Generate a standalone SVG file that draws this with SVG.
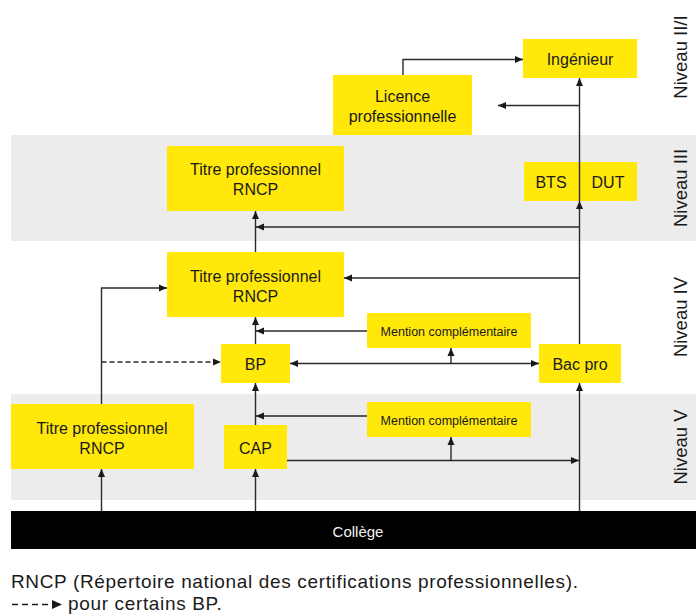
<svg xmlns="http://www.w3.org/2000/svg" width="696" height="616" viewBox="0 0 696 616">
<style>
.band{fill:#ececec}
.box{fill:#ffe80a}
.t{font-family:"Liberation Sans",Arial,sans-serif;font-size:16px;fill:#1a1a1a;text-anchor:middle}
.s{font-family:"Liberation Sans",Arial,sans-serif;font-size:12.5px;fill:#1a1a1a;text-anchor:middle}
.lvl{font-family:"Liberation Sans",Arial,sans-serif;font-size:18.5px;fill:#1a1a1a;text-anchor:middle}
.leg{font-family:"Liberation Sans",Arial,sans-serif;font-size:19px;letter-spacing:0.65px;fill:#1a1a1a}
.c{fill:none;stroke:#2a2a2a;stroke-width:1.4}
.a{marker-end:url(#ah)}
.d{stroke-dasharray:5,3}
</style>
<defs>
<marker id="ah" markerWidth="8" markerHeight="8" refX="8" refY="4" orient="auto-start-reverse" markerUnits="userSpaceOnUse">
<path d="M0,0.5 L8,4 L0,7.5 z" fill="#1a1a1a"/>
</marker>
<marker id="ahl" markerWidth="10" markerHeight="10" refX="10" refY="5" orient="auto" markerUnits="userSpaceOnUse">
<path d="M0,0.5 L10,5 L0,9.5 z" fill="#1a1a1a"/>
</marker>
</defs>
<g id="bands">
<rect class="band" x="11" y="135" width="685" height="106"/>
<rect class="band" x="11" y="394" width="685" height="106"/>
<rect x="11" y="511" width="685" height="38" fill="#000"/>
<text x="358" y="537" style="font-family:'Liberation Sans',Arial,sans-serif;font-size:15px;fill:#f2f2f2;text-anchor:middle">Collège</text>
</g>
<g id="levels">
<text class="lvl" transform="translate(687,57) rotate(-90)">Niveau II/I</text>
<text class="lvl" transform="translate(687,188) rotate(-90)">Niveau III</text>
<text class="lvl" transform="translate(687,317) rotate(-90)">Niveau IV</text>
<text class="lvl" transform="translate(687,447) rotate(-90)">Niveau V</text>
</g>
<g id="ingenieur"><rect class="box" x="523" y="39" width="114" height="39"/><text class="t" x="580" y="65">Ingénieur</text></g>
<g id="licence"><rect class="box" x="333" y="75" width="139" height="60"/><text class="t" x="402.5" y="101.5">Licence</text><text class="t" x="402.5" y="122">professionnelle</text></g>
<g id="titre3"><rect class="box" x="167" y="146" width="177" height="65"/><text class="t" x="255.5" y="175">Titre professionnel</text><text class="t" x="255.5" y="195">RNCP</text></g>
<g id="btsdut"><rect class="box" x="524" y="162" width="113" height="39"/><text class="t" x="551" y="187.5">BTS</text><text class="t" x="608" y="187.5">DUT</text></g>
<g id="titre4"><rect class="box" x="167" y="252" width="177" height="65"/><text class="t" x="255.5" y="282">Titre professionnel</text><text class="t" x="255.5" y="302">RNCP</text></g>
<g id="mention4"><rect class="box" x="367" y="313" width="164" height="35"/><text class="s" x="449" y="335.5">Mention complémentaire</text></g>
<g id="bp"><rect class="box" x="221" y="344" width="69" height="39"/><text class="t" x="255.5" y="370">BP</text></g>
<g id="bacpro"><rect class="box" x="539" y="344" width="82" height="39"/><text class="t" x="580" y="370">Bac pro</text></g>
<g id="titre5"><rect class="box" x="11" y="404" width="183" height="65"/><text class="t" x="102" y="433.5">Titre professionnel</text><text class="t" x="102" y="453.5">RNCP</text></g>
<g id="mention5"><rect class="box" x="367" y="402" width="164" height="35"/><text class="s" x="449" y="424.5">Mention complémentaire</text></g>
<g id="cap"><rect class="box" x="224" y="425" width="63" height="44"/><text class="t" x="255.5" y="453.5">CAP</text></g>
<g id="connectors">
<path class="c a" d="M403,75 V59.5 H523"/>
<path class="c a" d="M579.5,511 V383"/>
<path class="c a" d="M579.5,344 V201"/>
<path class="c a" d="M579.5,201 V78"/>
<path class="c a" d="M579.5,105.5 H498"/>
<path class="c a" d="M579.5,227 H256"/>
<path class="c a" d="M579.5,278 H344"/>
<path class="c a" d="M255.5,252 V211"/>
<path class="c a" d="M255.5,344 V317"/>
<path class="c a" d="M367,331 H256"/>
<path class="c a" d="M290,363.5 H539" marker-start="url(#ah)"/>
<path class="c a" d="M451,363.5 V348"/>
<path class="c a d" d="M101.5,362 H221"/>
<path class="c a" d="M101.5,404 V288 H167"/>
<path class="c a" d="M101.5,511 V469"/>
<path class="c a" d="M255.5,511 V469"/>
<path class="c a" d="M255.5,425 V383"/>
<path class="c a" d="M367,416 H256"/>
<path class="c a" d="M287,460.5 H579"/>
<path class="c a" d="M451,460.5 V437"/>
</g>
<g id="legend">
<text class="leg" x="11" y="587.5">RNCP (Répertoire national des certifications professionnelles).</text>
<path d="M12,604.5 H62" fill="none" stroke="#1a1a1a" stroke-width="1.5" stroke-dasharray="6,4" marker-end="url(#ahl)"/>
<text class="leg" x="68" y="610">pour certains BP.</text>
</g>
</svg>
